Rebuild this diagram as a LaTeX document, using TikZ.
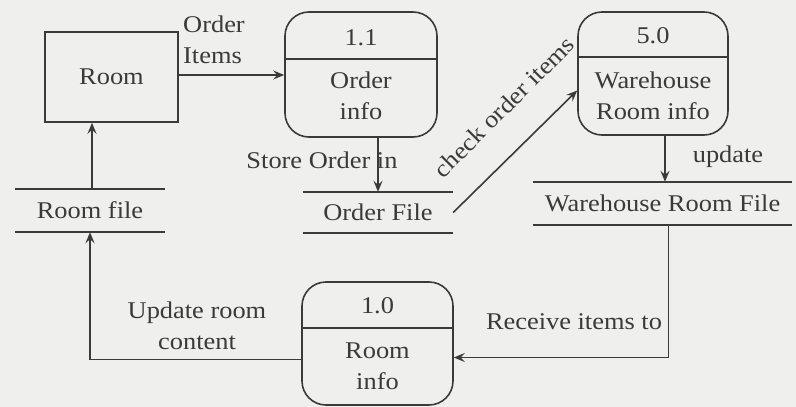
\documentclass[tikz,border=0pt]{standalone}
\usepackage{fontspec}
\setmainfont[FakeStretch=1.1]{Liberation Serif}
\usetikzlibrary{arrows.meta}
\definecolor{bg}{HTML}{EFEFED}
\definecolor{ink}{HTML}{3A3A3A}
\tikzset{
  every node/.style={text=ink, font=\fontsize{24}{31}\selectfont, inner sep=0pt, align=center},
  line/.style={draw=ink, line width=1.6pt},
  flow/.style={line, -{Stealth[length=11pt,width=9pt,inset=4pt]}},
  proc/.style={line, rounded corners=24pt, rectangle},
  storetxt/.style={rectangle},
  lbl/.style={}
}
\begin{document}
\begin{tikzpicture}[x=1pt,y=-1pt]
\fill[bg] (0,0) rectangle (796,407);
\useasboundingbox (0,0) rectangle (796,407);

% external entity
\node[line, rectangle, minimum width=133pt, minimum height=90pt] (room) at (111.5,77) {Room};

% processes
\node[proc, minimum width=152pt, minimum height=125pt] (p11) at (361,74.5) {};
\draw[line] (p11.west |- 0,59) -- (p11.east |- 0,59);
\node (p11id) at (361,38) {1.1};
\node (p11nm) at (361,96) {Order\\info};

\node[proc, minimum width=150pt, minimum height=123pt] (p50) at (653,73.5) {};
\draw[line] (p50.west |- 0,57) -- (p50.east |- 0,57);
\node (p50id) at (653,36) {5.0};
\node (p50nm) at (653,96) {Warehouse\\Room info};

\node[proc, minimum width=151pt, minimum height=123pt] (p10) at (377.5,343.5) {};
\draw[line] (p10.west |- 0,328) -- (p10.east |- 0,328);
\node (p10id) at (377.5,306) {1.0};
\node (p10nm) at (377.5,366) {Room\\info};

% data stores
\node[storetxt, minimum width=150pt, minimum height=43pt] (roomfile) at (90,210.5) {Room file};
\draw[line] (roomfile.north west) -- (roomfile.north east);
\draw[line] (roomfile.south west) -- (roomfile.south east);

\node[storetxt, minimum width=150pt, minimum height=41pt] (orderfile) at (378,212.5) {Order File};
\draw[line] (orderfile.north west) -- (orderfile.north east);
\draw[line] (orderfile.south west) -- (orderfile.south east);

\node[storetxt, minimum width=259pt, minimum height=43pt] (whfile) at (662.5,203.5) {Warehouse Room File};
\draw[line] (whfile.north west) -- (whfile.north east);
\draw[line] (whfile.south west) -- (whfile.south east);

% flows
\draw[flow] ([yshift=2pt]room.east) -- (p11.west |- 0,75);
\node[lbl, align=left, anchor=west] (lorder) at (183,40) {Order\\Items};

\draw[flow] (orderfile.north |- p11.south) -- (orderfile.north);
\node[lbl] (lstore) at (322,160) {Store Order in};

\draw[flow] (orderfile.east) -- ([yshift=-17pt]p50.west);
\node[lbl, rotate=45] (lcheck) at (504,107) {check order items};

\draw[flow] ([xshift=12pt]p50.south) -- ([xshift=12pt]p50.south |- whfile.north);
\node[lbl] (lupdate) at (728,157) {update};

\draw[flow] ([xshift=6pt]whfile.south) |- ([yshift=-14pt]p10.east);
\node[lbl] (lreceive) at (574,322) {Receive items to};

\draw[flow] ([yshift=-16pt]p10.west) -| (roomfile.south);
\node[lbl] (lupdroom) at (197,326) {Update room\\content};

\draw[flow] ([xshift=2pt]roomfile.north) -- ([xshift=2pt]roomfile.north |- room.south);
\end{tikzpicture}
\end{document}
